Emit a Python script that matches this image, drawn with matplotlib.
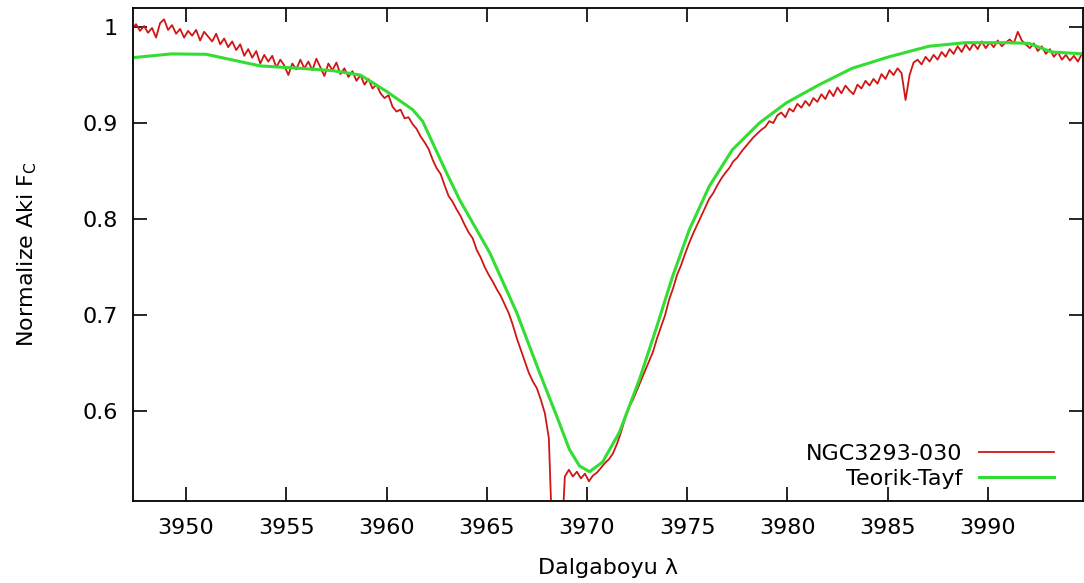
import numpy as np
import matplotlib
matplotlib.use("Agg")
import matplotlib.pyplot as plt

# observed spectrum, regular wavelength grid
wl_start = 3947.3
wl_step = 0.2
obs_flux = [
    0.998, 1.003, 0.996, 1.001, 0.994, 0.999, 0.989, 1.004, 1.008, 0.997,  # 3947.3
    1.002, 0.993, 0.998, 0.989, 0.996, 0.991, 0.997, 0.986, 0.995, 0.990,  # 3949.3
    0.985, 0.993, 0.982, 0.988, 0.979, 0.985, 0.976, 0.982, 0.970, 0.977,  # 3951.3
    0.968, 0.975, 0.962, 0.971, 0.964, 0.970, 0.958, 0.966, 0.960, 0.950,  # 3953.3
    0.962, 0.956, 0.966, 0.957, 0.964, 0.955, 0.967, 0.958, 0.949, 0.962,  # 3955.3
    0.955, 0.963, 0.951, 0.957, 0.948, 0.954, 0.944, 0.950, 0.940, 0.946,  # 3957.3
    0.936, 0.940, 0.931, 0.926, 0.929, 0.917, 0.912, 0.914, 0.905, 0.906,  # 3959.3
    0.899, 0.894, 0.886, 0.880, 0.873, 0.862, 0.853, 0.847, 0.835, 0.824,  # 3961.3
    0.818, 0.810, 0.803, 0.794, 0.786, 0.780, 0.768, 0.760, 0.750, 0.742,  # 3963.3
    0.735, 0.727, 0.720, 0.711, 0.702, 0.690, 0.676, 0.664, 0.652, 0.640,  # 3965.3
    0.631, 0.624, 0.612, 0.598, 0.572, 0.450, 0.400, 0.450, 0.532, 0.539,  # 3967.3
    0.532, 0.537, 0.530, 0.535, 0.527, 0.533, 0.536, 0.541, 0.546, 0.550,  # 3969.3
    0.556, 0.566, 0.578, 0.592, 0.604, 0.612, 0.622, 0.632, 0.642, 0.652,  # 3971.3
    0.662, 0.676, 0.688, 0.700, 0.716, 0.728, 0.742, 0.752, 0.764, 0.775,  # 3973.3
    0.785, 0.794, 0.803, 0.812, 0.821, 0.827, 0.835, 0.842, 0.848, 0.853,  # 3975.3
    0.860, 0.864, 0.870, 0.875, 0.880, 0.885, 0.889, 0.893, 0.896, 0.902,  # 3977.3
    0.900, 0.908, 0.911, 0.906, 0.915, 0.912, 0.920, 0.916, 0.923, 0.918,  # 3979.3
    0.926, 0.922, 0.930, 0.925, 0.934, 0.928, 0.937, 0.931, 0.939, 0.934,  # 3981.3
    0.930, 0.940, 0.936, 0.944, 0.939, 0.946, 0.941, 0.951, 0.946, 0.955,  # 3983.3
    0.950, 0.957, 0.952, 0.924, 0.950, 0.963, 0.966, 0.961, 0.969, 0.964,  # 3985.3
    0.971, 0.966, 0.974, 0.969, 0.977, 0.972, 0.980, 0.974, 0.982, 0.976,  # 3987.3
    0.983, 0.977, 0.985, 0.978, 0.984, 0.979, 0.986, 0.980, 0.984, 0.987,  # 3989.3
    0.983, 0.995, 0.986, 0.982, 0.978, 0.983, 0.975, 0.980, 0.972, 0.977,  # 3991.3
    0.969, 0.974, 0.966, 0.971, 0.965, 0.970, 0.964, 0.972,                # 3993.3
]
obs_wl = wl_start + wl_step * np.arange(len(obs_flux))

# synthetic spectrum
model_wl = [3947.3, 3949.25, 3951.0, 3953.7, 3955.7, 3957.3, 3958.7, 3960.0,
            3961.3, 3961.8, 3963.0, 3963.65, 3965.15, 3966.49, 3967.64,
            3968.49, 3969.13, 3969.63, 3970.13, 3970.78, 3971.62, 3972.62,
            3973.47, 3974.27, 3975.11, 3976.1, 3977.25, 3978.6, 3979.95,
            3981.6, 3983.23, 3985.08, 3987.07, 3988.91, 3990.9, 3992.05,
            3993.2, 3994.8]
model_flux = [0.968, 0.972, 0.9716, 0.9595, 0.957, 0.9546, 0.950, 0.933,
              0.914, 0.902, 0.848, 0.820, 0.765, 0.703, 0.640,
              0.595, 0.560, 0.543, 0.537, 0.547, 0.578, 0.633,
              0.687, 0.740, 0.789, 0.834, 0.872, 0.900, 0.921,
              0.940, 0.957, 0.969, 0.980, 0.9837, 0.9837, 0.983,
              0.974, 0.972]

xticks = [3950, 3955, 3960, 3965, 3970, 3975, 3980, 3985, 3990]
yticks = [0.6, 0.7, 0.8, 0.9, 1.0]
yticklabels = ["0.6", "0.7", "0.8", "0.9", "1"]

plt.rcParams['font.family'] = ['DejaVu Sans']
fs = 16

fig = plt.figure(figsize=(10.84, 5.83), dpi=100)
ax = fig.add_axes([133 / 1084, 1 - 501 / 583, 1 - 133 / 1084 - 0.001, (501 - 8) / 583])

ax.plot(obs_wl, obs_flux, color='#d01515', lw=1.3, label='NGC3293-030')
ax.plot(model_wl, model_flux, color='#33dd33', lw=2.2, label='Teorik-Tayf')

ax.set_xlim(3947.35, 3994.75)
ax.set_ylim(0.5065, 1.0198)
ax.set_xticks(xticks)
ax.set_yticks(yticks)
ax.set_yticklabels(yticklabels)
ax.tick_params(direction='in', length=10, width=1.2, top=True, right=True,
               labelsize=fs, colors='black')
ax.tick_params(axis='x', pad=12)
ax.tick_params(axis='y', pad=11)
for s in ax.spines.values():
    s.set_linewidth(1.3)

ax.set_xlabel('Dalgaboyu λ', fontsize=fs, labelpad=15)
ax.set_ylabel('Normalize Aki F$_\\mathregular{C}$', fontsize=fs, labelpad=31)

ax.legend(loc='lower right', bbox_to_anchor=(0.97, 0.025), frameon=False,
          markerfirst=False, fontsize=fs, handlelength=3.4, handletextpad=0.75,
          labelspacing=0.2, borderpad=0, borderaxespad=0)

fig.savefig('out.png', dpi=100)
